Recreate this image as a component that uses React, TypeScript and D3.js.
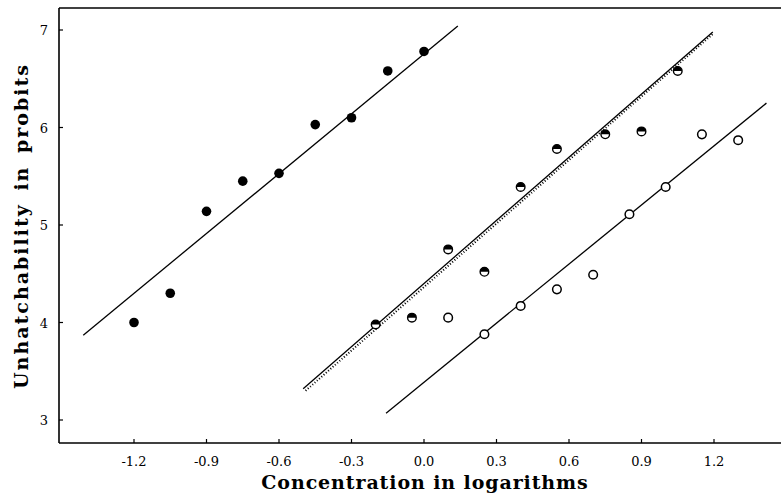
import React from 'react';
import * as d3 from 'd3';

// log concentration vs unhatchability (probits)
const filledX = [-1.2, -1.05, -0.9, -0.75, -0.6, -0.45, -0.3, -0.15, 0.0];
const filledY = [4.0, 4.3, 5.14, 5.45, 5.53, 6.03, 6.1, 6.58, 6.78];

const halfX = [-0.2, -0.05, 0.1, 0.25, 0.4, 0.55, 0.75, 0.9, 1.05];
const halfY = [3.98, 4.05, 4.75, 4.52, 5.39, 5.78, 5.93, 5.96, 6.58];

const openX = [0.1, 0.25, 0.4, 0.55, 0.7, 0.85, 1.0, 1.15, 1.3];
const openY = [4.05, 3.88, 4.17, 4.34, 4.49, 5.11, 5.39, 5.93, 5.87];

// fitted lines as [x0, y0, x1, y1]
const lineFilled = [-1.41, 3.87, 0.14, 7.04];
const lineHalf = [-0.5, 3.32, 1.195, 6.98];
const lineHalfDotted = [-0.49, 3.3, 1.2, 6.97];
const lineOpen = [-0.157, 3.07, 1.417, 6.25];

const xTicks = [-1.2, -0.9, -0.6, -0.3, 0.0, 0.3, 0.6, 0.9, 1.2];
const yTicks = [3, 4, 5, 6, 7];

const W = 781;
const H = 498;
const left = 59;
const right = 781;
const top = 8;
const bottom = 443;

const x = d3.scaleLinear().domain([-1.2, 1.2]).range([134, 714]);
const y = d3.scaleLinear().domain([3, 7]).range([420, 30]);

const font = '"DejaVu Serif", "Liberation Serif", serif';

const seg = (l: number[]) => d3.line()([[x(l[0]), y(l[1])], [x(l[2]), y(l[3])]]) as string;

export default function App() {
  // top half of the marker (d3 angles: 0 at 12 o'clock, clockwise)
  const halfArc = d3.arc()({ innerRadius: 0, outerRadius: 4.3, startAngle: -Math.PI / 2, endAngle: Math.PI / 2 }) as string;
  return (
    <svg width={W} height={H} style={{ position: 'absolute', left: 0, top: 0, background: '#fff' }}>
      <rect width={W} height={H} fill="#fff" />
      {/* frame */}
      <g stroke="#000" strokeWidth={1.6} fill="none">
        <line x1={left} y1={top} x2={left} y2={bottom} />
        <line x1={left} y1={bottom} x2={right} y2={bottom} />
        <line x1={left} y1={top} x2={right} y2={top} />
      </g>
      {/* ticks */}
      <g stroke="#000" strokeWidth={1.2}>
        {xTicks.map(t => (
          <line key={'xt' + t} x1={x(t)} x2={x(t)} y1={bottom} y2={bottom - 4} />
        ))}
        {yTicks.map(t => (
          <line key={'yt' + t} x1={left} x2={left + 4} y1={y(t)} y2={y(t)} />
        ))}
      </g>
      <g fontFamily={font} fontSize={13} fill="#000">
        {xTicks.map(t => (
          <text key={'xl' + t} x={x(t)} y={bottom + 23} textAnchor="middle">
            {d3.format('.1f')(t).replace('−', '-')}
          </text>
        ))}
        {yTicks.map(t => (
          <text key={'yl' + t} x={left - 11} y={y(t) + 5} textAnchor="end">
            {t}
          </text>
        ))}
      </g>
      <text x={425} y={489} textAnchor="middle" fontFamily={font} fontSize={19} fontWeight="bold" letterSpacing={0.9}>
        Concentration in logarithms
      </text>
      <text transform={`translate(28,${226}) rotate(-90)`} textAnchor="middle" fontFamily={font} fontSize={19} fontWeight="bold" letterSpacing={2} wordSpacing={4}>
        Unhatchability in probits
      </text>
      {/* lines */}
      <g stroke="#000" fill="none" strokeWidth={1.3}>
        <path d={seg(lineFilled)} />
        <path d={seg(lineHalf)} />
        <path d={seg(lineOpen)} />
        <path d={seg(lineHalfDotted)} strokeWidth={2} strokeDasharray="1 2" />
      </g>
      {/* points */}
      <g>
        {filledX.map((v, i) => (
          <circle key={'f' + i} cx={x(v)} cy={y(filledY[i])} r={4.8} fill="#000" />
        ))}
        {halfX.map((v, i) => (
          <g key={'h' + i} transform={`translate(${x(v)},${y(halfY[i])})`}>
            <circle r={4.3} fill="#fff" stroke="#000" strokeWidth={1.4} />
            <path d={halfArc} fill="#000" />
          </g>
        ))}
        {openX.map((v, i) => (
          <circle key={'o' + i} cx={x(v)} cy={y(openY[i])} r={4.3} fill="#fff" stroke="#000" strokeWidth={1.5} />
        ))}
      </g>
    </svg>
  );
}
